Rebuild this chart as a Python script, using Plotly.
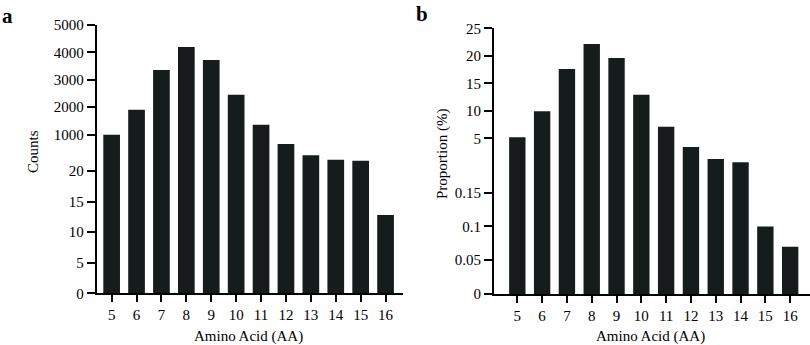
import numpy as np
import plotly.graph_objects as go

# ---------------- data ----------------
amino_acids = [5, 6, 7, 8, 9, 10, 11, 12, 13, 14, 15, 16]
counts = [990, 1900, 3360, 4200, 3720, 2450, 1360, 745, 441, 323, 297, 12.8]
proportion = [5.18, 9.9, 17.6, 22.15, 19.6, 12.9, 7.1, 4.22, 3.15, 2.86, 0.1, 0.07]

# broken (piecewise) y axes: value breakpoints and tick labels
left_breaks = [0, 20, 1000, 5000]
left_ticks = [0, 5, 10, 15, 20, 1000, 2000, 3000, 4000, 5000]
right_breaks = [0, 0.15, 5, 25]
right_ticks = [0, 0.05, 0.1, 0.15, 5, 10, 15, 20, 25]

W, H = 810, 345
BAR = "#161c1c"
FONT = "Liberation Serif"

# pixel heights of each break above the baseline (layout, not data)
left_heights = [0, 122.3, 158.8, 268.3]
right_heights = [0, 101.3, 155.7, 265.7]


def py(px):
    return 1 - px / H


def scale(values, breaks, heights):
    return np.interp(values, breaks, heights)


axis_common = dict(
    showline=True, linecolor="black", linewidth=2, ticks="outside",
    tickwidth=2, tickcolor="black", showgrid=False, zeroline=False,
    automargin=False, tickfont=dict(family=FONT, size=15, color="black"),
)

fig = go.Figure()
fig.add_trace(go.Bar(
    x=amino_acids, y=scale(counts, left_breaks, left_heights),
    xaxis="x", yaxis="y", width=0.67,
    marker=dict(color=BAR, line=dict(width=0)),
    customdata=counts, hovertemplate="%{x}: %{customdata}<extra></extra>",
))
fig.add_trace(go.Bar(
    x=amino_acids, y=scale(proportion, right_breaks, right_heights),
    xaxis="x2", yaxis="y2", width=0.66,
    marker=dict(color=BAR, line=dict(width=0)),
    customdata=proportion, hovertemplate="%{x}: %{customdata}%<extra></extra>",
))

fig.update_layout(
    template="none",
    width=W, height=H, margin=dict(l=0, r=0, t=0, b=0, autoexpand=False),
    paper_bgcolor="white", plot_bgcolor="white", showlegend=False,
    font=dict(family=FONT, size=15, color="black"),
    xaxis=dict(axis_common, domain=[96.7 / W, 403 / W], range=[4.4, 16.7],
               tickmode="array", tickvals=amino_acids,
               ticktext=[str(a) for a in amino_acids], ticklen=7, anchor="y"),
    yaxis=dict(axis_common, domain=[py(293.3), py(25)], range=[0, left_heights[-1]],
               tickmode="array", tickvals=scale(left_ticks, left_breaks, left_heights),
               ticktext=[str(t) for t in left_ticks], ticklen=8, anchor="x"),
    xaxis2=dict(axis_common, domain=[494 / W, 1.0], range=[4.06, 16.8],
                tickmode="array", tickvals=amino_acids,
                ticktext=[str(a) for a in amino_acids], ticklen=7, anchor="y2"),
    yaxis2=dict(axis_common, domain=[py(294), py(28.3)], range=[0, right_heights[-1]],
                tickmode="array", tickvals=scale(right_ticks, right_breaks, right_heights),
                ticktext=[str(t) for t in right_ticks], ticklen=8, anchor="x2"),
)

ann = [
    dict(text="<b>a</b>", x=0 / W, y=py(2), xanchor="left", yanchor="top", size=21),
    dict(text="<b>b</b>", x=414 / W, y=py(0), xanchor="left", yanchor="top", size=21),
    dict(text="Counts", x=33 / W, y=py(152), textangle=-90, xanchor="center", yanchor="middle"),
    dict(text="Proportion (%)", x=443 / W, y=py(154), textangle=-90, xanchor="center", yanchor="middle"),
    dict(text="Amino Acid (AA)", x=248 / W, y=py(336), xanchor="center", yanchor="middle"),
    dict(text="Amino Acid (AA)", x=650 / W, y=py(336), xanchor="center", yanchor="middle"),
]
for a in ann:
    size = a.pop("size", 15)
    a.update(xref="paper", yref="paper", showarrow=False,
             font=dict(family=FONT, color="black", size=size))
fig.update_layout(annotations=ann)

fig.write_html(
    "out.html",
    config={"displayModeBar": False},
    post_script="document.body.style.margin='0';document.body.style.overflow='hidden';",
)
